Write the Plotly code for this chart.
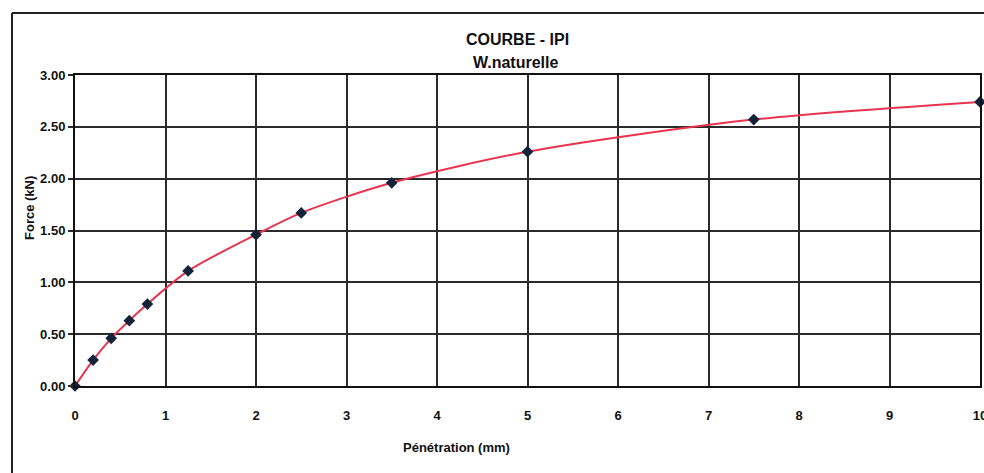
import plotly.graph_objects as go

penetration = [0, 0.2, 0.4, 0.6, 0.8, 1.25, 2, 2.5, 3.5, 5, 7.5, 10]
force = [0.00, 0.25, 0.46, 0.63, 0.79, 1.11, 1.46, 1.67, 1.96, 2.26, 2.57, 2.74]
x_ticks = list(range(0, 11))
y_ticks = [0.0, 0.5, 1.0, 1.5, 2.0, 2.5, 3.0]

FONT = "Liberation Sans, Arial, sans-serif"

# plot area in the reference spans x 75..980, y 75..386
W, H = 984, 473

fig = go.Figure()
fig.add_trace(go.Scatter(
    x=penetration, y=force, mode="lines+markers",
    line=dict(color="#e8344e", width=2, shape="spline", smoothing=0.8),
    marker=dict(symbol="diamond", size=9, color="#15233a"),
    showlegend=False, hoverinfo="x+y", cliponaxis=False,
))

fig.update_layout(
    width=W, height=H,
    margin=dict(l=75, r=W - 980, t=75, b=H - 386),
    paper_bgcolor="white", plot_bgcolor="white",
    font=dict(family=FONT, color="#111111"),
    xaxis=dict(range=[0, 10], tickvals=x_ticks, ticktext=[str(v) for v in x_ticks],
               showgrid=True, gridcolor="#2a2a2a", gridwidth=1.6,
               showline=True, linecolor="#111111", linewidth=2, mirror=True,
               zeroline=False, ticks="", ticklabelstandoff=16, automargin=False,
               ticklabeloverflow="allow",
               tickfont=dict(size=13, family=FONT, weight="bold")),
    yaxis=dict(range=[0, 3], tickvals=y_ticks, tickformat=".2f",
               showgrid=True, gridcolor="#2a2a2a", gridwidth=1.6,
               showline=True, linecolor="#111111", linewidth=2, mirror=True,
               zeroline=False, ticks="outside", ticklen=5, tickcolor="#2a2a2a",
               tickwidth=1.6, automargin=False,
               tickfont=dict(size=13, family=FONT, weight="bold")),
)

fig.add_annotation(text="<b>COURBE - IPI</b>", xref="paper", yref="paper",
                   x=(517 - 75) / 905, y=(386 - 39) / 311, showarrow=False,
                   font=dict(size=16, family=FONT), xanchor="center", yanchor="middle")
fig.add_annotation(text="<b>W.naturelle</b>", xref="paper", yref="paper",
                   x=(515 - 75) / 905, y=(386 - 63) / 311, showarrow=False,
                   font=dict(size=16, family=FONT), xanchor="center", yanchor="middle")
fig.add_annotation(text="<b>Pénétration (mm)</b>", xref="paper", yref="paper",
                   x=(456 - 75) / 905, y=(386 - 447) / 311, showarrow=False,
                   font=dict(size=13, family=FONT), xanchor="center", yanchor="middle")
fig.add_annotation(text="<b>Force (kN)</b>", xref="paper", yref="paper",
                   x=(30 - 75) / 905, y=(386 - 208) / 311, showarrow=False, textangle=-90,
                   font=dict(size=13, family=FONT), xanchor="center", yanchor="middle")

# outer frame (left and top edges)
fig.add_shape(type="line", xref="paper", yref="paper",
              x0=(12 - 75) / 905, x1=(12 - 75) / 905, y0=(386 - 13) / 311, y1=(386 - 480) / 311,
              line=dict(color="#222222", width=2))
fig.add_shape(type="line", xref="paper", yref="paper",
              x0=(12 - 75) / 905, x1=(990 - 75) / 905, y0=(386 - 13) / 311, y1=(386 - 13) / 311,
              line=dict(color="#222222", width=2))

fig.write_html(
    "out.html",
    config={"displayModeBar": False},
    post_script="document.body.style.margin='0';document.body.style.overflow='hidden';",
)
